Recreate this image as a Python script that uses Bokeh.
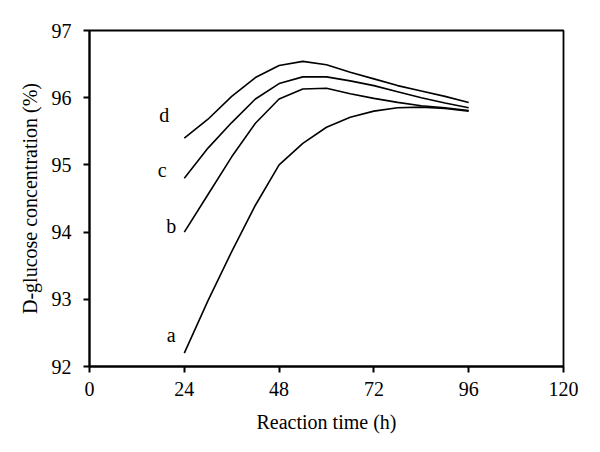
from bokeh.plotting import figure
from bokeh.models import Range1d, FixedTicker, ColumnDataSource
from bokeh.core.properties import value
from bokeh.embed import file_html
from bokeh.resources import INLINE

# Reaction time (h)
time_h = [24, 30, 36, 42, 48, 54, 60, 66, 72, 78, 84, 90, 96]
# D-glucose concentration (%) for curves a-d
curve_a = [92.20, 92.98, 93.71, 94.40, 95.00, 95.32, 95.56, 95.71, 95.80, 95.85, 95.86, 95.84, 95.80]
curve_b = [94.00, 94.56, 95.12, 95.62, 95.98, 96.13, 96.14, 96.06, 95.99, 95.93, 95.88, 95.85, 95.81]
curve_c = [94.80, 95.25, 95.63, 95.98, 96.21, 96.31, 96.31, 96.25, 96.18, 96.09, 96.00, 95.92, 95.85]
curve_d = [95.40, 95.68, 96.02, 96.30, 96.48, 96.54, 96.49, 96.38, 96.28, 96.18, 96.10, 96.02, 95.93]
curve_names = ["a", "b", "c", "d"]
x_ticks = [0, 24, 48, 72, 96, 120]
y_ticks = [92, 93, 94, 95, 96, 97]

FONT = "Liberation Serif"

p = figure(width=592, height=444, output_backend="svg", toolbar_location=None,
           x_range=Range1d(0, 120), y_range=Range1d(92, 97),
           min_border_left=89, min_border_right=29, min_border_top=30, min_border_bottom=78)

p.background_fill_color = "white"
p.border_fill_color = "white"
p.outline_line_color = "black"
p.outline_line_width = 1.8
p.xgrid.visible = False
p.ygrid.visible = False

for ax in (p.xaxis[0], p.yaxis[0]):
    ax.axis_line_width = 2
    ax.axis_line_color = "black"
    ax.major_tick_line_width = 2
    ax.major_tick_line_color = "black"
    ax.major_tick_out = 6
    ax.major_tick_in = 0
    ax.minor_tick_line_color = None
    ax.major_label_text_font = FONT
    ax.major_label_text_font_size = "20px"
    ax.major_label_text_color = "black"
    ax.axis_label_text_font = FONT
    ax.axis_label_text_font_size = "20px"
    ax.axis_label_text_font_style = "normal"
    ax.axis_label_text_color = "black"

p.xaxis.ticker = FixedTicker(ticks=x_ticks)
p.yaxis.ticker = FixedTicker(ticks=y_ticks)
p.xaxis.axis_label = "Reaction time (h)"
p.yaxis.axis_label = "D-glucose concentration (%)"
p.xaxis.major_label_standoff = 9
p.yaxis.major_label_standoff = 12
p.xaxis.axis_label_standoff = 12
p.yaxis.axis_label_standoff = 8

curves = [curve_a, curve_b, curve_c, curve_d]
for ys in curves:
    p.line(time_h, ys, line_color="black", line_width=1.6)

# curve labels anchored at each curve's first point, offset in screen pixels
label_dx = [-13, -13, -22, -20]
label_dy = [-18, -6, -8, -23]
src = ColumnDataSource(dict(
    x=[time_h[0]] * 4,
    y=[c[0] for c in curves],
    t=curve_names,
    dx=label_dx,
    dy=label_dy,
))
p.text(x="x", y="y", text="t", x_offset="dx", y_offset="dy", source=src,
       text_font=value(FONT), text_font_size="20px", text_color="black",
       text_align="center", text_baseline="middle")

open("out.html", "w").write(file_html(p, INLINE))
